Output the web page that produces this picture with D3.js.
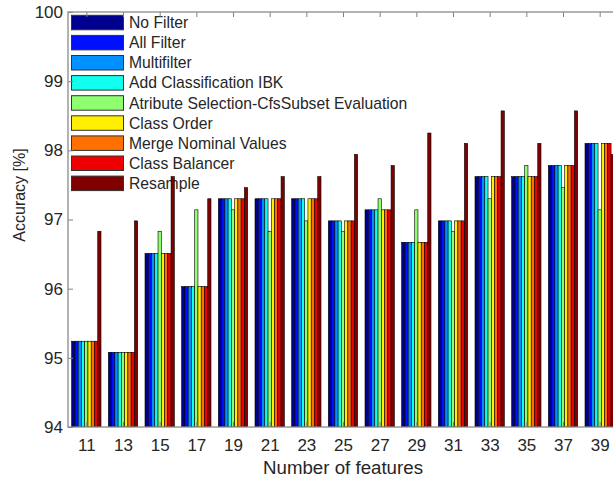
<!DOCTYPE html>
<meta charset="utf-8">
<style>
body { margin: 0; background: #fff; }
text { font-family: "Liberation Sans", Arial, sans-serif; fill: #262626; }
.axis path { display: none; }
.axis line { stroke: #808080; }
</style>
<body>
<script src="https://cdn.jsdelivr.net/npm/d3@7"></script>
<script>

// categories (number of features)
var features = [11, 13, 15, 17, 19, 21, 23, 25, 27, 29, 31, 33, 35, 37, 39];

// series values (accuracy %)
var noFilter      = [95.24, 95.08, 96.51, 96.03, 97.30, 97.30, 97.30, 96.98, 97.14, 96.67, 96.98, 97.62, 97.62, 97.78, 98.10];
var allFilter     = [95.24, 95.08, 96.51, 96.03, 97.30, 97.30, 97.30, 96.98, 97.14, 96.67, 96.98, 97.62, 97.62, 97.78, 98.10];
var multiFilter   = [95.24, 95.08, 96.51, 96.03, 97.30, 97.30, 97.30, 96.98, 97.14, 96.67, 96.98, 97.62, 97.62, 97.78, 98.10];
var addClassIBK   = [95.24, 95.08, 96.51, 96.03, 97.30, 97.30, 97.30, 96.98, 97.14, 96.67, 96.98, 97.62, 97.62, 97.78, 98.10];
var attrSelection = [95.24, 95.08, 96.83, 97.14, 97.14, 96.83, 96.98, 96.83, 97.30, 97.14, 96.83, 97.30, 97.78, 97.46, 97.14];
var classOrder    = [95.24, 95.08, 96.51, 96.03, 97.30, 97.30, 97.30, 96.98, 97.14, 96.67, 96.98, 97.62, 97.62, 97.78, 98.10];
var mergeNominal  = [95.24, 95.08, 96.51, 96.03, 97.30, 97.30, 97.30, 96.98, 97.14, 96.67, 96.98, 97.62, 97.62, 97.78, 98.10];
var classBalancer = [95.24, 95.08, 96.51, 96.03, 97.30, 97.30, 97.30, 96.98, 97.14, 96.67, 96.98, 97.62, 97.62, 97.78, 98.10];
var resample      = [96.83, 96.98, 97.62, 97.30, 97.46, 97.62, 97.62, 97.94, 97.78, 98.25, 98.10, 98.57, 98.10, 98.57, 97.94];

var seriesNames = ["No Filter", "All Filter", "Multifilter", "Add Classification IBK",
    "Atribute Selection-CfsSubset Evaluation", "Class Order", "Merge Nominal Values",
    "Class Balancer", "Resample"];
var seriesValues = [noFilter, allFilter, multiFilter, addClassIBK, attrSelection,
    classOrder, mergeNominal, classBalancer, resample];
var colors = ["#00008f", "#0010ff", "#0090ff", "#10ffef", "#8fff70",
    "#ffef00", "#ff7000", "#ef0000", "#800000"];

var yTicks = [94, 95, 96, 97, 98, 99, 100];

var W = 613, H = 479;
var pLeft = 68, pRight = 618, pTop = 12, pBottom = 427;

var svg = d3.select("body").append("svg")
    .attr("width", W).attr("height", H);

var x = d3.scaleLinear().domain([10, 40]).range([pLeft, pRight]);
var y = d3.scaleLinear().domain([94, 100]).range([pBottom, pTop]);

// bars inside a group: 0.8 of the 2-unit spacing
var groupW = x(11.6) - x(10);
var inner = d3.scaleBand().domain(d3.range(seriesNames.length)).range([0, groupW]).padding(0);

// legend (drawn first, bars overlay it)
var leg = svg.append("g");
seriesNames.forEach(function(name, i) {
    var yy = 15.3 + i * 20.1;
    leg.append("rect")
        .attr("x", 71.5).attr("y", yy)
        .attr("width", 52).attr("height", 14.5)
        .attr("fill", colors[i])
        .attr("stroke", "#333").attr("stroke-width", 1);
    leg.append("text")
        .attr("x", 129).attr("y", yy + 12.8)
        .style("font-size", "15.7px")
        .text(name);
});

// bars
svg.append("clipPath").attr("id", "plot")
    .append("rect").attr("x", pLeft).attr("y", pTop)
    .attr("width", pRight - pLeft).attr("height", pBottom - pTop);

var bars = svg.append("g").attr("clip-path", "url(#plot)");
features.forEach(function(f, j) {
    var x0 = x(f - 0.8);
    seriesValues.forEach(function(vals, i) {
        bars.append("rect")
            .attr("x", x0 + inner(i))
            .attr("y", y(vals[j]))
            .attr("width", inner.bandwidth())
            .attr("height", pBottom - y(vals[j]))
            .attr("fill", colors[i])
            .attr("stroke", "#000")
            .attr("stroke-width", 0.6);
    });
});

// axes
svg.append("g").attr("class", "axis")
    .attr("transform", "translate(" + pLeft + ",0)")
    .call(d3.axisLeft(y).tickValues(yTicks).tickFormat(d3.format("d")).tickSize(-5).tickPadding(5))
    .selectAll("text").style("font-size", "17px").style("fill", "#262626");

svg.append("g").attr("class", "axis")
    .attr("transform", "translate(" + pRight + ",0)")
    .call(d3.axisRight(y).tickValues(yTicks).tickSize(-5).tickFormat(""));

svg.append("g").attr("class", "axis")
    .attr("transform", "translate(0," + pBottom + ")")
    .call(d3.axisBottom(x).tickValues(features).tickFormat(d3.format("d")).tickSize(-5).tickPadding(12))
    .selectAll("text").style("font-size", "17px").style("fill", "#262626");

svg.append("g").attr("class", "axis")
    .attr("transform", "translate(0," + pTop + ")")
    .call(d3.axisTop(x).tickValues(features).tickSize(-5).tickFormat(""));

// box
svg.append("rect")
    .attr("x", pLeft).attr("y", pTop)
    .attr("width", pRight - pLeft).attr("height", pBottom - pTop)
    .attr("fill", "none").attr("stroke", "#8a8a8a").attr("stroke-width", 1.3);

// axis labels
svg.append("text")
    .attr("x", (pLeft + pRight) / 2).attr("y", 474)
    .attr("text-anchor", "middle")
    .style("font-size", "18.7px")
    .text("Number of features");

svg.append("text")
    .attr("transform", "translate(25,195) rotate(-90)")
    .attr("text-anchor", "middle")
    .style("font-size", "16px")
    .text("Accuracy [%]");

</script>
</body>
